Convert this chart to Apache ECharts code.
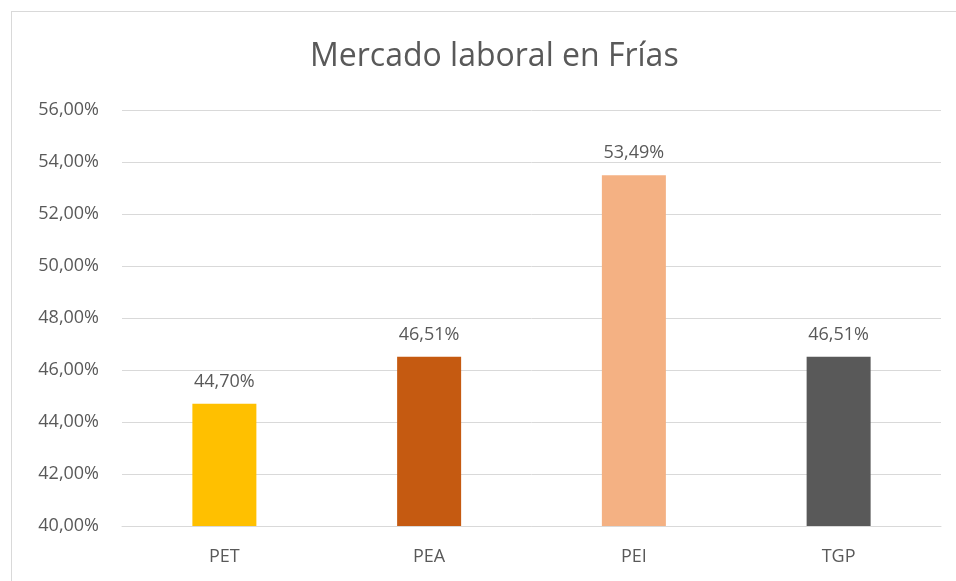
<!DOCTYPE html>
<html>
<head>
<meta charset="utf-8">
<script src="https://cdn.jsdelivr.net/npm/echarts@6/dist/echarts.min.js"></script>
<style>
  html, body { margin: 0; padding: 0; background: #fff; overflow: hidden; }
  #frame { position: absolute; left: 11px; top: 11px; width: 960px; height: 590px;
           border: 1px solid #d9d9d9; box-sizing: border-box; }
  #chart { position: absolute; left: 0; top: 0; width: 956px; height: 581px; }
</style>
</head>
<body>
<div id="frame"></div>
<div id="chart"></div>
<script>
const categories = ['PET', 'PEA', 'PEI', 'TGP'];
const values = [44.70, 46.51, 53.49, 46.51];
const barColors = ['#FFC000', '#C55A11', '#F4B183', '#595959'];
const yMin = 40, yMax = 56, yStep = 2;

const fmt = v => v.toFixed(2).replace('.', ',') + '%';
const font = 'Open Sans';

const chart = echarts.init(document.getElementById('chart'));
chart.setOption({
  animation: false,
  title: {
    text: 'Mercado laboral en Frías',
    left: 305,
    top: 36,
    textStyle: { fontFamily: font, fontSize: 32, fontWeight: 'normal', color: '#595959' }
  },
  grid: { left: 122, right: 15, top: 110, bottom: 55 },
  xAxis: {
    type: 'category',
    data: categories,
    axisLine: { lineStyle: { color: '#d9d9d9' } },
    axisTick: { show: false },
    axisLabel: { fontFamily: font, fontSize: 18, color: '#595959', margin: 22 }
  },
  yAxis: {
    type: 'value',
    min: yMin, max: yMax, interval: yStep,
    axisLine: { show: false },
    axisTick: { show: false },
    splitLine: { lineStyle: { color: '#d9d9d9' } },
    axisLabel: { fontFamily: font, fontSize: 18, color: '#595959', margin: 23, formatter: fmt }
  },
  series: [{
    type: 'bar',
    barWidth: 64,
    data: values.map((v, i) => ({ value: v, itemStyle: { color: barColors[i] } })),
    label: {
      show: true, position: 'top', distance: 13,
      fontFamily: font, fontSize: 18, color: '#595959',
      formatter: p => fmt(p.value)
    }
  }]
});
</script>
</body>
</html>
